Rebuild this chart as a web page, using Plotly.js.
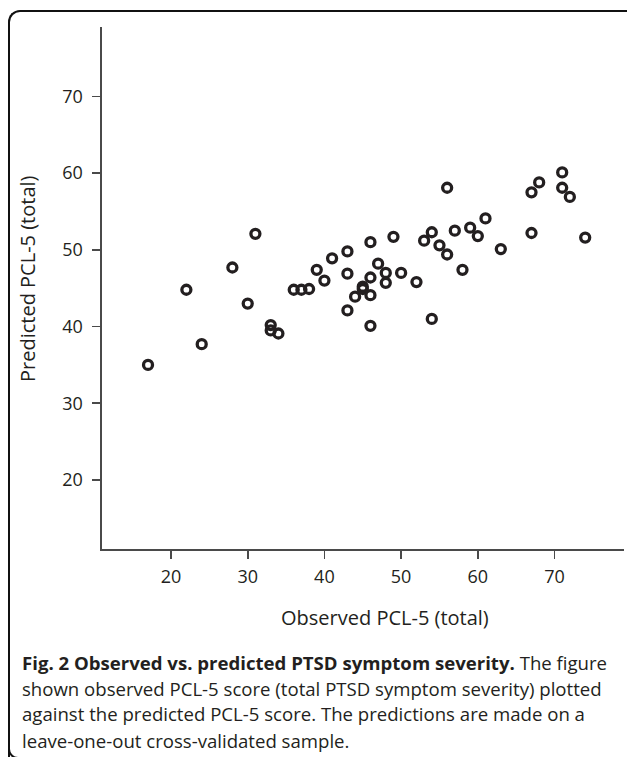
<!DOCTYPE html>
<html>
<head>
<meta charset="utf-8">
<script src="https://cdn.plot.ly/plotly-3.0.1.min.js"></script>
<style>
  html, body { margin: 0; padding: 0; background: #fff; }
  #wrap { position: relative; width: 627px; height: 757px; overflow: hidden; }
  #frame { position: absolute; left: 8px; top: 10px; width: 640px; height: 760px;
           border-left: 2.5px solid #111; border-top: 2.5px solid #111;
           border-top-left-radius: 12px; box-sizing: border-box; }
  #hook { position: absolute; left: 8px; top: 738px; width: 22px; height: 20.5px;
          border-left: 2.5px solid #111; border-bottom: 2.5px solid #111;
          border-bottom-left-radius: 10px; box-sizing: border-box; }
  #plot { position: absolute; left: 0; top: 0; width: 627px; height: 757px; }
</style>
</head>
<body>
<div id="wrap">
  <div id="frame"></div>
  <div id="hook"></div>
  <div id="plot"></div>
</div>
<script>
// Observed PCL-5 (total) vs predicted PCL-5 (total)
const observed = [17, 22, 24, 28, 30, 31, 33, 33, 34, 36, 37, 38, 39, 40, 41, 43, 43, 43, 44, 45, 45, 46, 46, 46, 46, 47, 48, 48, 49, 50, 52, 53, 54, 54, 55, 56, 56, 57, 58, 59, 60, 61, 63, 67, 67, 68, 71, 71, 72, 74];
const predicted = [35.0, 44.8, 37.7, 47.7, 43.0, 52.1, 40.2, 39.5, 39.1, 44.8, 44.8, 44.9, 47.4, 46.0, 48.9, 49.8, 46.9, 42.1, 43.9, 45.2, 44.9, 51.0, 46.4, 44.1, 40.1, 48.2, 47.0, 45.7, 51.7, 47.0, 45.8, 51.2, 52.3, 41.0, 50.6, 58.1, 49.4, 52.5, 47.4, 52.9, 51.8, 54.1, 50.1, 57.5, 52.2, 58.8, 60.1, 58.1, 56.9, 51.6];
const tickValues = [20, 30, 40, 50, 60, 70];
const xTitle = 'Observed PCL-5 (total)';
const yTitle = 'Predicted PCL-5 (total)';
const captionLines = [
  '<b>Fig. 2 Observed vs. predicted PTSD symptom severity.</b> The figure',
  'shown observed PCL-5 score (total PTSD symptom severity) plotted',
  'against the predicted PCL-5 score. The predictions are made on a',
  'leave-one-out cross-validated sample.'
];

const FONT = '"Open Sans", "Noto Sans", sans-serif';
const INK = '#231f20';
const AX = '#4a4a4a';

const plotLeft = 102, plotRight = 624, plotTop = 27, plotBottom = 549;
const plotW = plotRight - plotLeft, plotH = plotBottom - plotTop;
const px2x = p => (p - plotLeft) / plotW;
const py2y = p => (plotBottom - p) / plotH;
const captionY = [662, 688, 713, 740];

const annotations = captionLines.map((t, i) => ({
  text: t, xref: 'paper', yref: 'paper',
  x: px2x(20), y: py2y(captionY[i]),
  xanchor: 'left', yanchor: 'middle', align: 'left', showarrow: false,
  font: { family: FONT, size: 18.6, color: INK }
}));
annotations.push({
  text: xTitle, xref: 'paper', yref: 'paper', x: px2x(385), y: py2y(617),
  xanchor: 'center', yanchor: 'middle', showarrow: false,
  font: { family: FONT, size: 20, color: INK }
});
annotations.push({
  text: yTitle, xref: 'paper', yref: 'paper', x: px2x(27), y: py2y(279),
  xanchor: 'center', yanchor: 'middle', textangle: -90, showarrow: false,
  font: { family: FONT, size: 20, color: INK }
});

const axisCommon = {
  range: [11, 79.06], tickvals: tickValues, ticks: 'outside', ticklen: 8,
  tickwidth: 1.6, tickcolor: AX, showline: true, linewidth: 1.6, linecolor: AX,
  showgrid: false, zeroline: false, fixedrange: true,
  tickfont: { family: FONT, size: 18, color: INK }
};

Plotly.newPlot('plot', [{
  x: observed, y: predicted, type: 'scatter', mode: 'markers',
  marker: { symbol: 'circle-open', size: 9, color: INK, line: { width: 3.3, color: INK } },
  hoverinfo: 'x+y'
}], {
  width: 627, height: 757,
  margin: { l: plotLeft, r: 627 - plotRight, t: plotTop, b: 757 - plotBottom },
  paper_bgcolor: 'rgba(0,0,0,0)', plot_bgcolor: 'rgba(0,0,0,0)',
  showlegend: false,
  xaxis: Object.assign({}, axisCommon, { ticklabelstandoff: 3 }),
  yaxis: Object.assign({}, axisCommon, { ticklabelstandoff: 6 }),
  annotations: annotations
}, { displayModeBar: false, staticPlot: true });
</script>
</body>
</html>
